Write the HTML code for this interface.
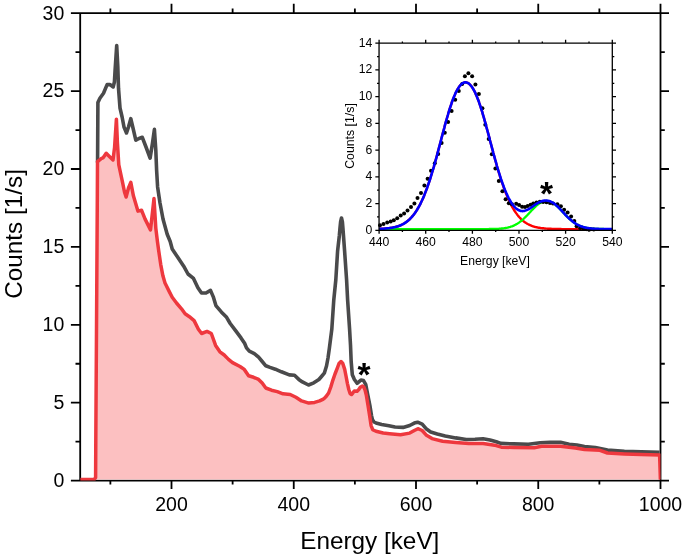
<!DOCTYPE html>
<html><head><meta charset="utf-8"><style>
html,body{margin:0;padding:0;background:#fff;width:685px;height:558px;overflow:hidden}
svg{display:block;will-change:transform}
</style></head><body>
<svg width="685" height="558" viewBox="0 0 685 558">
<rect width="685" height="558" fill="#fff"/>
<path d="M80.2,13.2H660.5V480.6H80.2Z M110.38,480.6v4.0M110.38,13.2v-4.8 M171.50,480.6v8.4M171.50,13.2v-9.5 M232.62,480.6v4.0M232.62,13.2v-4.8 M293.75,480.6v8.4M293.75,13.2v-9.5 M354.88,480.6v4.0M354.88,13.2v-4.8 M416.00,480.6v8.4M416.00,13.2v-9.5 M477.12,480.6v4.0M477.12,13.2v-4.8 M538.25,480.6v8.4M538.25,13.2v-9.5 M599.38,480.6v4.0M599.38,13.2v-4.8 M660.50,480.6v8.4M660.50,13.2v-9.5 M80.2,480.60h-9.3M660.5,480.60h8.5 M80.2,441.65h-4.7M660.5,441.65h4.3 M80.2,402.70h-9.3M660.5,402.70h8.5 M80.2,363.75h-4.7M660.5,363.75h4.3 M80.2,324.80h-9.3M660.5,324.80h8.5 M80.2,285.85h-4.7M660.5,285.85h4.3 M80.2,246.90h-9.3M660.5,246.90h8.5 M80.2,207.95h-4.7M660.5,207.95h4.3 M80.2,169.00h-9.3M660.5,169.00h8.5 M80.2,130.05h-4.7M660.5,130.05h4.3 M80.2,91.10h-9.3M660.5,91.10h8.5 M80.2,52.15h-4.7M660.5,52.15h4.3 M80.2,13.20h-9.3M660.5,13.20h8.5" fill="none" stroke="#000" stroke-width="1.8"/>
<defs><clipPath id="pc"><rect x="80.2" y="13.2" width="580.3" height="467.40000000000003"/></clipPath></defs>
<g clip-path="url(#pc)">
<polygon points="80.2,479.6 94.2,479.6 95.6,477.5 95.8,440.0 96.5,330.0 97.3,200.0 97.5,161.6 100.9,158.8 103.3,157.6 106.2,153.3 108.9,156.0 113.0,160.0 114.6,147.1 116.4,119.2 117.4,142.3 118.8,164.8 122.6,182.6 124.5,192.0 126.1,197.0 128.5,188.0 130.8,182.4 133.4,195.8 137.9,211.1 141.5,210.2 145.1,219.1 150.5,229.9 152.5,212.0 154.0,198.5 155.8,228.1 157.5,242.0 158.6,250.0 160.7,264.3 162.9,275.8 165.0,283.0 169.3,291.6 172.2,297.3 176.5,303.0 181.5,308.8 185.1,313.8 189.4,316.7 194.1,320.6 198.4,329.2 201.6,333.5 207.0,331.4 211.3,333.5 215.6,345.4 219.9,351.8 224.2,355.0 228.5,359.4 232.5,362.6 240.0,366.5 244.3,369.4 248.6,375.8 253.6,377.3 258.6,379.4 262.2,383.0 265.8,388.0 271.5,390.2 277.3,391.6 283.0,393.8 290.2,394.5 295.9,397.3 301.6,400.9 308.8,403.1 314.6,402.4 319.6,400.9 323.3,399.1 324.3,398.4 326.5,396.0 328.6,393.0 330.8,387.0 332.9,380.1 335.0,374.0 337.2,368.3 339.0,363.5 341.0,361.5 342.8,363.5 344.7,369.4 346.0,376.0 347.4,383.3 348.8,389.5 350.1,393.5 351.5,394.5 352.8,393.0 354.4,390.9 357.1,391.2 358.8,389.5 360.3,387.3 362.5,386.0 364.1,387.6 365.2,390.5 366.3,395.0 368.3,407.1 369.9,417.6 371.1,425.6 372.7,429.7 376.0,431.3 383.2,433.0 389.6,433.7 400.5,434.7 409.7,433.1 414.3,430.5 417.9,428.7 422.2,430.5 426.1,434.9 432.0,438.6 442.6,441.2 455.7,442.5 468.8,443.6 483.1,443.6 496.3,445.6 501.4,447.2 513.8,447.5 534.2,447.7 541.5,446.3 560.5,446.3 575.3,448.1 584.5,449.5 599.9,450.3 607.5,453.0 624.4,453.9 641.2,454.5 659.6,455.0 660.4,479.6" fill="#fcc0c1" stroke="none"/>
<polyline points="97.5,162.5 97.6,160.0 97.9,102.5 99.9,98.2 103.5,93.2 107.1,84.6 109.9,84.6 113.2,86.9 114.4,82.0 115.1,70.0 116.7,45.5 117.8,66.7 118.5,88.2 120.0,108.0 122.1,117.0 124.0,127.0 126.5,133.0 128.5,127.0 130.8,118.7 133.0,128.0 135.8,140.2 139.0,138.5 142.3,137.3 146.0,147.0 150.1,158.1 152.5,143.0 154.4,129.4 155.8,150.0 156.6,170.0 157.6,186.9 160.0,203.0 163.0,219.0 167.2,234.3 170.2,241.5 172.2,249.0 177.9,257.6 183.7,266.2 188.0,274.0 193.5,278.4 197.9,287.7 201.5,293.0 206.0,293.0 210.5,290.4 213.2,296.6 215.9,305.6 221.3,311.9 226.6,317.3 230.2,323.5 235.6,330.7 241.0,337.9 244.6,343.3 246.5,347.9 249.3,351.2 254.3,353.6 258.6,357.2 262.2,361.5 265.8,365.8 270.0,367.4 275.3,369.2 281.4,371.8 289.3,374.9 294.5,375.3 298.8,379.4 302.4,381.9 308.5,385.0 313.8,382.8 318.9,379.5 321.5,376.5 324.3,373.2 326.5,366.0 328.0,358.0 329.4,348.0 331.8,329.3 333.8,299.7 335.8,280.0 337.6,251.0 339.3,236.0 340.0,228.0 340.6,222.0 341.5,218.0 342.4,222.0 342.9,228.0 343.5,236.0 344.6,251.0 346.6,280.0 347.6,299.7 349.6,329.3 350.5,345.0 351.2,362.0 352.3,374.7 354.4,379.5 357.1,383.3 360.9,380.1 363.5,380.6 365.7,384.4 367.8,395.2 369.9,405.5 371.5,415.6 372.5,419.8 374.0,422.0 376.0,423.0 381.6,424.5 388.9,425.7 395.0,427.0 403.1,427.4 409.7,425.5 414.3,423.1 417.6,422.2 422.2,424.1 426.1,428.7 430.7,432.0 437.3,434.0 445.2,436.0 455.7,437.9 466.2,439.5 475.0,439.3 483.1,438.7 490.0,440.0 496.3,441.7 500.7,443.4 513.8,443.9 528.4,444.3 540.1,442.7 550.0,442.4 560.5,442.3 569.2,444.3 576.9,445.0 584.5,446.5 595.3,447.5 607.5,450.1 624.4,451.2 641.2,451.9 659.6,452.4" fill="none" stroke="#4a4a4b" stroke-width="3.6" stroke-linejoin="round"/>
<polyline points="80.2,479.6 94.2,479.6 95.6,477.5 95.8,440.0 96.5,330.0 97.3,200.0 97.5,161.6 100.9,158.8 103.3,157.6 106.2,153.3 108.9,156.0 113.0,160.0 114.6,147.1 116.4,119.2 117.4,142.3 118.8,164.8 122.6,182.6 124.5,192.0 126.1,197.0 128.5,188.0 130.8,182.4 133.4,195.8 137.9,211.1 141.5,210.2 145.1,219.1 150.5,229.9 152.5,212.0 154.0,198.5 155.8,228.1 157.5,242.0 158.6,250.0 160.7,264.3 162.9,275.8 165.0,283.0 169.3,291.6 172.2,297.3 176.5,303.0 181.5,308.8 185.1,313.8 189.4,316.7 194.1,320.6 198.4,329.2 201.6,333.5 207.0,331.4 211.3,333.5 215.6,345.4 219.9,351.8 224.2,355.0 228.5,359.4 232.5,362.6 240.0,366.5 244.3,369.4 248.6,375.8 253.6,377.3 258.6,379.4 262.2,383.0 265.8,388.0 271.5,390.2 277.3,391.6 283.0,393.8 290.2,394.5 295.9,397.3 301.6,400.9 308.8,403.1 314.6,402.4 319.6,400.9 323.3,399.1 324.3,398.4 326.5,396.0 328.6,393.0 330.8,387.0 332.9,380.1 335.0,374.0 337.2,368.3 339.0,363.5 341.0,361.5 342.8,363.5 344.7,369.4 346.0,376.0 347.4,383.3 348.8,389.5 350.1,393.5 351.5,394.5 352.8,393.0 354.4,390.9 357.1,391.2 358.8,389.5 360.3,387.3 362.5,386.0 364.1,387.6 365.2,390.5 366.3,395.0 368.3,407.1 369.9,417.6 371.1,425.6 372.7,429.7 376.0,431.3 383.2,433.0 389.6,433.7 400.5,434.7 409.7,433.1 414.3,430.5 417.9,428.7 422.2,430.5 426.1,434.9 432.0,438.6 442.6,441.2 455.7,442.5 468.8,443.6 483.1,443.6 496.3,445.6 501.4,447.2 513.8,447.5 534.2,447.7 541.5,446.3 560.5,446.3 575.3,448.1 584.5,449.5 599.9,450.3 607.5,453.0 624.4,453.9 641.2,454.5 659.6,455.0 660.4,479.6" fill="none" stroke="#ee383e" stroke-width="3.5" stroke-linejoin="round"/>
</g>
<text x="64.3" y="486.9" text-anchor="end" font-size="19.5" font-family="&apos;Liberation Sans&apos;, sans-serif">0</text>
<text x="64.3" y="409.0" text-anchor="end" font-size="19.5" font-family="&apos;Liberation Sans&apos;, sans-serif">5</text>
<text x="64.3" y="331.1" text-anchor="end" font-size="19.5" font-family="&apos;Liberation Sans&apos;, sans-serif">10</text>
<text x="64.3" y="253.2" text-anchor="end" font-size="19.5" font-family="&apos;Liberation Sans&apos;, sans-serif">15</text>
<text x="64.3" y="175.3" text-anchor="end" font-size="19.5" font-family="&apos;Liberation Sans&apos;, sans-serif">20</text>
<text x="64.3" y="97.4" text-anchor="end" font-size="19.5" font-family="&apos;Liberation Sans&apos;, sans-serif">25</text>
<text x="64.3" y="19.5" text-anchor="end" font-size="19.5" font-family="&apos;Liberation Sans&apos;, sans-serif">30</text>
<text x="171.5" y="510.9" text-anchor="middle" font-size="19.5" font-family="&apos;Liberation Sans&apos;, sans-serif">200</text>
<text x="293.8" y="510.9" text-anchor="middle" font-size="19.5" font-family="&apos;Liberation Sans&apos;, sans-serif">400</text>
<text x="416.0" y="510.9" text-anchor="middle" font-size="19.5" font-family="&apos;Liberation Sans&apos;, sans-serif">600</text>
<text x="538.2" y="510.9" text-anchor="middle" font-size="19.5" font-family="&apos;Liberation Sans&apos;, sans-serif">800</text>
<text x="660.5" y="510.9" text-anchor="middle" font-size="19.5" font-family="&apos;Liberation Sans&apos;, sans-serif">1000</text>
<text x="369.8" y="548.6" text-anchor="middle" font-size="24.3" font-family="&apos;Liberation Sans&apos;, sans-serif">Energy [keV]</text>
<text transform="translate(21.9,233.9) rotate(-90)" text-anchor="middle" font-size="24.3" font-family="&apos;Liberation Sans&apos;, sans-serif">Counts [1/s]</text>
<text x="364.1" y="386.3" text-anchor="middle" font-size="33.5" font-weight="bold" font-family="&apos;Liberation Sans&apos;, sans-serif">*</text>

<polyline points="379.1,228.9 379.6,228.9 380.2,228.8 380.8,228.8 381.4,228.8 382.0,228.8 382.5,228.7 383.1,228.7 383.7,228.7 384.3,228.6 384.9,228.6 385.5,228.5 386.0,228.5 386.6,228.4 387.2,228.4 387.8,228.3 388.4,228.2 389.0,228.2 389.5,228.1 390.1,228.0 390.7,227.9 391.3,227.9 391.9,227.8 392.5,227.7 393.0,227.5 393.6,227.4 394.2,227.3 394.8,227.2 395.4,227.0 396.0,226.9 396.5,226.7 397.1,226.5 397.7,226.4 398.3,226.2 398.9,226.0 399.5,225.7 400.0,225.5 400.6,225.3 401.2,225.0 401.8,224.7 402.4,224.4 403.0,224.1 403.5,223.8 404.1,223.5 404.7,223.1 405.3,222.7 405.9,222.3 406.5,221.9 407.0,221.5 407.6,221.0 408.2,220.5 408.8,220.0 409.4,219.5 410.0,218.9 410.5,218.3 411.1,217.7 411.7,217.1 412.3,216.4 412.9,215.7 413.5,215.0 414.0,214.3 414.6,213.5 415.2,212.6 415.8,211.8 416.4,210.9 417.0,210.0 417.5,209.0 418.1,208.0 418.7,207.0 419.3,205.9 419.9,204.8 420.5,203.7 421.0,202.5 421.6,201.3 422.2,200.0 422.8,198.7 423.4,197.4 424.0,196.0 424.5,194.6 425.1,193.1 425.7,191.6 426.3,190.1 426.9,188.5 427.4,186.9 428.0,185.2 428.6,183.5 429.2,181.8 429.8,180.0 430.4,178.2 430.9,176.3 431.5,174.5 432.1,172.5 432.7,170.6 433.3,168.6 433.9,166.6 434.4,164.5 435.0,162.5 435.6,160.4 436.2,158.3 436.8,156.1 437.4,153.9 437.9,151.8 438.5,149.6 439.1,147.4 439.7,145.2 440.3,142.9 440.9,140.7 441.4,138.5 442.0,136.3 442.6,134.1 443.2,131.9 443.8,129.7 444.4,127.5 444.9,125.3 445.5,123.2 446.1,121.1 446.7,119.0 447.3,117.0 447.9,115.0 448.4,113.0 449.0,111.1 449.6,109.2 450.2,107.4 450.8,105.6 451.4,103.9 451.9,102.2 452.5,100.6 453.1,99.0 453.7,97.5 454.3,96.1 454.9,94.7 455.4,93.4 456.0,92.2 456.6,91.0 457.2,89.9 457.8,88.9 458.4,88.0 458.9,87.1 459.5,86.3 460.1,85.6 460.7,84.9 461.3,84.3 461.9,83.8 462.4,83.4 463.0,83.0 463.6,82.8 464.2,82.5 464.8,82.4 465.4,82.4 465.9,82.4 466.5,82.5 467.1,82.7 467.7,82.9 468.3,83.2 468.9,83.6 469.4,84.1 470.0,84.7 470.6,85.3 471.2,86.0 471.8,86.8 472.4,87.6 472.9,88.5 473.5,89.5 474.1,90.6 474.7,91.7 475.3,92.9 475.8,94.2 476.4,95.5 477.0,96.9 477.6,98.4 478.2,100.0 478.8,101.5 479.3,103.2 479.9,104.9 480.5,106.7 481.1,108.5 481.7,110.3 482.3,112.2 482.8,114.2 483.4,116.2 484.0,118.2 484.6,120.3 485.2,122.4 485.8,124.5 486.3,126.6 486.9,128.8 487.5,131.0 488.1,133.2 488.7,135.4 489.3,137.6 489.8,139.8 490.4,142.1 491.0,144.3 491.6,146.5 492.2,148.7 492.8,150.9 493.3,153.1 493.9,155.2 494.5,157.4 495.1,159.5 495.7,161.6 496.3,163.7 496.8,165.8 497.4,167.8 498.0,169.8 498.6,171.8 499.2,173.7 499.8,175.6 500.3,177.5 500.9,179.3 501.5,181.1 502.1,182.8 502.7,184.5 503.3,186.2 503.8,187.9 504.4,189.5 505.0,191.0 505.6,192.5 506.2,194.0 506.8,195.4 507.3,196.8 507.9,198.2 508.5,199.5 509.1,200.8 509.7,202.0 510.3,203.2 510.8,204.4 511.4,205.5 512.0,206.6 512.6,207.6 513.2,208.6 513.8,209.6 514.3,210.5 514.9,211.4 515.5,212.3 516.1,213.1 516.7,213.9 517.3,214.7 517.8,215.4 518.4,216.2 519.0,216.8 519.6,217.5 520.2,218.1 520.7,218.7 521.3,219.3 521.9,219.8 522.5,220.3 523.1,220.8 523.7,221.3 524.2,221.7 524.8,222.2 525.4,222.6 526.0,223.0 526.6,223.3 527.2,223.7 527.7,224.0 528.3,224.3 528.9,224.6 529.5,224.9 530.1,225.2 530.7,225.4 531.2,225.6 531.8,225.9 532.4,226.1 533.0,226.3 533.6,226.5 534.2,226.6 534.7,226.8 535.3,227.0 535.9,227.1 536.5,227.2 537.1,227.4 537.7,227.5 538.2,227.6 538.8,227.7 539.4,227.8 540.0,227.9 540.6,228.0 541.2,228.1 541.7,228.1 542.3,228.2 542.9,228.3 543.5,228.3 544.1,228.4 544.7,228.5 545.2,228.5 545.8,228.6 546.4,228.6 547.0,228.6 547.6,228.7 548.2,228.7 548.7,228.7 549.3,228.8 549.9,228.8 550.5,228.8 551.1,228.8 551.7,228.9 552.2,228.9 552.8,228.9 553.4,228.9 554.0,228.9 554.6,228.9 555.2,229.0 555.7,229.0 556.3,229.0 556.9,229.0 557.5,229.0 558.1,229.0 558.7,229.0 559.2,229.0 559.8,229.0 560.4,229.0 561.0,229.0 561.6,229.1 562.2,229.1 562.7,229.1 563.3,229.1 563.9,229.1 564.5,229.1 565.1,229.1 565.6,229.1 566.2,229.1 566.8,229.1 567.4,229.1 568.0,229.1 568.6,229.1 569.1,229.1 569.7,229.1 570.3,229.1 570.9,229.1 571.5,229.1 572.1,229.1 572.6,229.1 573.2,229.1 573.8,229.1 574.4,229.1 575.0,229.1 575.6,229.1 576.1,229.1 576.7,229.1 577.3,229.1 577.9,229.1 578.5,229.1 579.1,229.1 579.6,229.1 580.2,229.1 580.8,229.1 581.4,229.1 582.0,229.1 582.6,229.1 583.1,229.1 583.7,229.1 584.3,229.1 584.9,229.1 585.5,229.1 586.1,229.1 586.6,229.1 587.2,229.1 587.8,229.1 588.4,229.1 589.0,229.1 589.6,229.1 590.1,229.1 590.7,229.1 591.3,229.1 591.9,229.1 592.5,229.1 593.1,229.1 593.6,229.1 594.2,229.1 594.8,229.1 595.4,229.1 596.0,229.1 596.6,229.1 597.1,229.1 597.7,229.1 598.3,229.1 598.9,229.1 599.5,229.1 600.1,229.1 600.6,229.1 601.2,229.1 601.8,229.1 602.4,229.1 603.0,229.1 603.6,229.1 604.1,229.1 604.7,229.1 605.3,229.1 605.9,229.1 606.5,229.1 607.1,229.1 607.6,229.1 608.2,229.1 608.8,229.1 609.4,229.1 610.0,229.1 610.6,229.1 611.1,229.1 611.7,229.1 612.3,229.1" fill="none" stroke="#ff0000" stroke-width="2.4"/>
<polyline points="379.1,229.1 379.6,229.1 380.2,229.1 380.8,229.1 381.4,229.1 382.0,229.1 382.5,229.1 383.1,229.1 383.7,229.1 384.3,229.1 384.9,229.1 385.5,229.1 386.0,229.1 386.6,229.1 387.2,229.1 387.8,229.1 388.4,229.1 389.0,229.1 389.5,229.1 390.1,229.1 390.7,229.1 391.3,229.1 391.9,229.1 392.5,229.1 393.0,229.1 393.6,229.1 394.2,229.1 394.8,229.1 395.4,229.1 396.0,229.1 396.5,229.1 397.1,229.1 397.7,229.1 398.3,229.1 398.9,229.1 399.5,229.1 400.0,229.1 400.6,229.1 401.2,229.1 401.8,229.1 402.4,229.1 403.0,229.1 403.5,229.1 404.1,229.1 404.7,229.1 405.3,229.1 405.9,229.1 406.5,229.1 407.0,229.1 407.6,229.1 408.2,229.1 408.8,229.1 409.4,229.1 410.0,229.1 410.5,229.1 411.1,229.1 411.7,229.1 412.3,229.1 412.9,229.1 413.5,229.1 414.0,229.1 414.6,229.1 415.2,229.1 415.8,229.1 416.4,229.1 417.0,229.1 417.5,229.1 418.1,229.1 418.7,229.1 419.3,229.1 419.9,229.1 420.5,229.1 421.0,229.1 421.6,229.1 422.2,229.1 422.8,229.1 423.4,229.1 424.0,229.1 424.5,229.1 425.1,229.1 425.7,229.1 426.3,229.1 426.9,229.1 427.4,229.1 428.0,229.1 428.6,229.1 429.2,229.1 429.8,229.1 430.4,229.1 430.9,229.1 431.5,229.1 432.1,229.1 432.7,229.1 433.3,229.1 433.9,229.1 434.4,229.1 435.0,229.1 435.6,229.1 436.2,229.1 436.8,229.1 437.4,229.1 437.9,229.1 438.5,229.1 439.1,229.1 439.7,229.1 440.3,229.1 440.9,229.1 441.4,229.1 442.0,229.1 442.6,229.1 443.2,229.1 443.8,229.1 444.4,229.1 444.9,229.1 445.5,229.1 446.1,229.1 446.7,229.1 447.3,229.1 447.9,229.1 448.4,229.1 449.0,229.1 449.6,229.1 450.2,229.1 450.8,229.1 451.4,229.1 451.9,229.1 452.5,229.1 453.1,229.1 453.7,229.1 454.3,229.1 454.9,229.1 455.4,229.1 456.0,229.1 456.6,229.1 457.2,229.1 457.8,229.1 458.4,229.1 458.9,229.1 459.5,229.1 460.1,229.1 460.7,229.1 461.3,229.1 461.9,229.1 462.4,229.1 463.0,229.1 463.6,229.1 464.2,229.1 464.8,229.1 465.4,229.1 465.9,229.1 466.5,229.1 467.1,229.1 467.7,229.1 468.3,229.1 468.9,229.1 469.4,229.1 470.0,229.1 470.6,229.1 471.2,229.1 471.8,229.1 472.4,229.1 472.9,229.1 473.5,229.1 474.1,229.1 474.7,229.1 475.3,229.1 475.8,229.1 476.4,229.1 477.0,229.1 477.6,229.1 478.2,229.1 478.8,229.1 479.3,229.1 479.9,229.1 480.5,229.1 481.1,229.1 481.7,229.1 482.3,229.1 482.8,229.1 483.4,229.1 484.0,229.1 484.6,229.1 485.2,229.1 485.8,229.1 486.3,229.1 486.9,229.1 487.5,229.1 488.1,229.1 488.7,229.1 489.3,229.0 489.8,229.0 490.4,229.0 491.0,229.0 491.6,229.0 492.2,229.0 492.8,229.0 493.3,229.0 493.9,229.0 494.5,228.9 495.1,228.9 495.7,228.9 496.3,228.9 496.8,228.9 497.4,228.8 498.0,228.8 498.6,228.8 499.2,228.7 499.8,228.7 500.3,228.6 500.9,228.6 501.5,228.5 502.1,228.5 502.7,228.4 503.3,228.3 503.8,228.3 504.4,228.2 505.0,228.1 505.6,228.0 506.2,227.9 506.8,227.8 507.3,227.7 507.9,227.5 508.5,227.4 509.1,227.2 509.7,227.1 510.3,226.9 510.8,226.7 511.4,226.5 512.0,226.3 512.6,226.1 513.2,225.8 513.8,225.6 514.3,225.3 514.9,225.0 515.5,224.7 516.1,224.4 516.7,224.1 517.3,223.7 517.8,223.4 518.4,223.0 519.0,222.6 519.6,222.2 520.2,221.7 520.7,221.3 521.3,220.8 521.9,220.3 522.5,219.8 523.1,219.3 523.7,218.8 524.2,218.2 524.8,217.7 525.4,217.1 526.0,216.5 526.6,215.9 527.2,215.3 527.7,214.7 528.3,214.1 528.9,213.5 529.5,212.8 530.1,212.2 530.7,211.6 531.2,210.9 531.8,210.3 532.4,209.7 533.0,209.1 533.6,208.5 534.2,207.9 534.7,207.3 535.3,206.8 535.9,206.2 536.5,205.7 537.1,205.2 537.7,204.7 538.2,204.3 538.8,203.8 539.4,203.4 540.0,203.1 540.6,202.7 541.2,202.4 541.7,202.1 542.3,201.9 542.9,201.7 543.5,201.5 544.1,201.3 544.7,201.2 545.2,201.1 545.8,201.1 546.4,201.0 547.0,201.0 547.6,201.1 548.2,201.2 548.7,201.3 549.3,201.4 549.9,201.6 550.5,201.8 551.1,202.0 551.7,202.3 552.2,202.6 552.8,202.9 553.4,203.3 554.0,203.7 554.6,204.1 555.2,204.5 555.7,205.0 556.3,205.5 556.9,206.0 557.5,206.5 558.1,207.1 558.7,207.7 559.2,208.2 559.8,208.8 560.4,209.4 561.0,210.1 561.6,210.7 562.2,211.3 562.7,211.9 563.3,212.6 563.9,213.2 564.5,213.8 565.1,214.5 565.6,215.1 566.2,215.7 566.8,216.3 567.4,216.9 568.0,217.4 568.6,218.0 569.1,218.6 569.7,219.1 570.3,219.6 570.9,220.1 571.5,220.6 572.1,221.1 572.6,221.5 573.2,222.0 573.8,222.4 574.4,222.8 575.0,223.2 575.6,223.6 576.1,223.9 576.7,224.3 577.3,224.6 577.9,224.9 578.5,225.2 579.1,225.5 579.6,225.7 580.2,226.0 580.8,226.2 581.4,226.4 582.0,226.6 582.6,226.8 583.1,227.0 583.7,227.2 584.3,227.3 584.9,227.5 585.5,227.6 586.1,227.7 586.6,227.8 587.2,228.0 587.8,228.1 588.4,228.1 589.0,228.2 589.6,228.3 590.1,228.4 590.7,228.5 591.3,228.5 591.9,228.6 592.5,228.6 593.1,228.7 593.6,228.7 594.2,228.8 594.8,228.8 595.4,228.8 596.0,228.8 596.6,228.9 597.1,228.9 597.7,228.9 598.3,228.9 598.9,229.0 599.5,229.0 600.1,229.0 600.6,229.0 601.2,229.0 601.8,229.0 602.4,229.0 603.0,229.0 603.6,229.0 604.1,229.1 604.7,229.1 605.3,229.1 605.9,229.1 606.5,229.1 607.1,229.1 607.6,229.1 608.2,229.1 608.8,229.1 609.4,229.1 610.0,229.1 610.6,229.1 611.1,229.1 611.7,229.1 612.3,229.1" fill="none" stroke="#00ff00" stroke-width="2.3"/>
<circle cx="380.0" cy="225.3" r="2.0" fill="#000"/>
<circle cx="383.5" cy="223.9" r="2.0" fill="#000"/>
<circle cx="387.2" cy="222.5" r="2.0" fill="#000"/>
<circle cx="390.7" cy="221.4" r="2.0" fill="#000"/>
<circle cx="393.8" cy="220.2" r="2.0" fill="#000"/>
<circle cx="397.2" cy="218.2" r="2.0" fill="#000"/>
<circle cx="400.7" cy="215.6" r="2.0" fill="#000"/>
<circle cx="404.1" cy="213.4" r="2.0" fill="#000"/>
<circle cx="407.5" cy="210.4" r="2.0" fill="#000"/>
<circle cx="411.0" cy="206.9" r="2.0" fill="#000"/>
<circle cx="414.4" cy="203.5" r="2.0" fill="#000"/>
<circle cx="417.5" cy="198.1" r="2.0" fill="#000"/>
<circle cx="421.0" cy="192.9" r="2.0" fill="#000"/>
<circle cx="424.4" cy="185.5" r="2.0" fill="#000"/>
<circle cx="427.6" cy="178.8" r="2.0" fill="#000"/>
<circle cx="431.0" cy="170.7" r="2.0" fill="#000"/>
<circle cx="434.8" cy="163.3" r="2.0" fill="#000"/>
<circle cx="438.2" cy="153.9" r="2.0" fill="#000"/>
<circle cx="441.6" cy="143.0" r="2.0" fill="#000"/>
<circle cx="444.8" cy="132.8" r="2.0" fill="#000"/>
<circle cx="448.1" cy="122.0" r="2.0" fill="#000"/>
<circle cx="451.6" cy="111.0" r="2.0" fill="#000"/>
<circle cx="455.2" cy="99.8" r="2.0" fill="#000"/>
<circle cx="458.8" cy="91.0" r="2.0" fill="#000"/>
<circle cx="462.2" cy="84.0" r="2.0" fill="#000"/>
<circle cx="464.9" cy="76.3" r="2.0" fill="#000"/>
<circle cx="468.4" cy="73.3" r="2.0" fill="#000"/>
<circle cx="472.1" cy="76.3" r="2.0" fill="#000"/>
<circle cx="475.4" cy="84.4" r="2.0" fill="#000"/>
<circle cx="478.9" cy="94.0" r="2.0" fill="#000"/>
<circle cx="482.4" cy="108.2" r="2.0" fill="#000"/>
<circle cx="485.3" cy="124.8" r="2.0" fill="#000"/>
<circle cx="488.7" cy="138.9" r="2.0" fill="#000"/>
<circle cx="491.8" cy="154.2" r="2.0" fill="#000"/>
<circle cx="495.4" cy="168.6" r="2.0" fill="#000"/>
<circle cx="498.8" cy="181.1" r="2.0" fill="#000"/>
<circle cx="502.4" cy="191.3" r="2.0" fill="#000"/>
<circle cx="505.6" cy="199.2" r="2.0" fill="#000"/>
<circle cx="508.8" cy="203.2" r="2.0" fill="#000"/>
<circle cx="512.0" cy="204.2" r="2.0" fill="#000"/>
<circle cx="516.2" cy="203.8" r="2.0" fill="#000"/>
<circle cx="519.1" cy="205.0" r="2.0" fill="#000"/>
<circle cx="522.1" cy="206.8" r="2.0" fill="#000"/>
<circle cx="525.0" cy="206.9" r="2.0" fill="#000"/>
<circle cx="527.7" cy="206.1" r="2.0" fill="#000"/>
<circle cx="530.6" cy="204.8" r="2.0" fill="#000"/>
<circle cx="533.3" cy="203.5" r="2.0" fill="#000"/>
<circle cx="536.5" cy="202.5" r="2.0" fill="#000"/>
<circle cx="539.8" cy="201.8" r="2.0" fill="#000"/>
<circle cx="543.1" cy="202.0" r="2.0" fill="#000"/>
<circle cx="546.5" cy="202.3" r="2.0" fill="#000"/>
<circle cx="550.0" cy="203.0" r="2.0" fill="#000"/>
<circle cx="553.0" cy="203.6" r="2.0" fill="#000"/>
<circle cx="557.4" cy="204.3" r="2.0" fill="#000"/>
<circle cx="560.9" cy="206.2" r="2.0" fill="#000"/>
<circle cx="564.1" cy="209.7" r="2.0" fill="#000"/>
<circle cx="567.6" cy="212.6" r="2.0" fill="#000"/>
<circle cx="571.1" cy="216.4" r="2.0" fill="#000"/>
<circle cx="574.3" cy="221.1" r="2.0" fill="#000"/>
<circle cx="576.6" cy="226.3" r="2.0" fill="#000"/>
<circle cx="580.1" cy="228.1" r="2.0" fill="#000"/>
<circle cx="583.5" cy="228.8" r="2.0" fill="#000"/>
<circle cx="587.0" cy="229.2" r="2.0" fill="#000"/>
<circle cx="590.4" cy="229.3" r="2.0" fill="#000"/>
<circle cx="593.8" cy="229.4" r="2.0" fill="#000"/>
<polyline points="379.1,228.9 379.6,228.9 380.2,228.8 380.8,228.8 381.4,228.8 382.0,228.8 382.5,228.7 383.1,228.7 383.7,228.7 384.3,228.6 384.9,228.6 385.5,228.5 386.0,228.5 386.6,228.4 387.2,228.4 387.8,228.3 388.4,228.2 389.0,228.2 389.5,228.1 390.1,228.0 390.7,227.9 391.3,227.9 391.9,227.8 392.5,227.7 393.0,227.5 393.6,227.4 394.2,227.3 394.8,227.2 395.4,227.0 396.0,226.9 396.5,226.7 397.1,226.5 397.7,226.4 398.3,226.2 398.9,226.0 399.5,225.7 400.0,225.5 400.6,225.3 401.2,225.0 401.8,224.7 402.4,224.4 403.0,224.1 403.5,223.8 404.1,223.5 404.7,223.1 405.3,222.7 405.9,222.3 406.5,221.9 407.0,221.5 407.6,221.0 408.2,220.5 408.8,220.0 409.4,219.5 410.0,218.9 410.5,218.3 411.1,217.7 411.7,217.1 412.3,216.4 412.9,215.7 413.5,215.0 414.0,214.3 414.6,213.5 415.2,212.6 415.8,211.8 416.4,210.9 417.0,210.0 417.5,209.0 418.1,208.0 418.7,207.0 419.3,205.9 419.9,204.8 420.5,203.7 421.0,202.5 421.6,201.3 422.2,200.0 422.8,198.7 423.4,197.4 424.0,196.0 424.5,194.6 425.1,193.1 425.7,191.6 426.3,190.1 426.9,188.5 427.4,186.9 428.0,185.2 428.6,183.5 429.2,181.8 429.8,180.0 430.4,178.2 430.9,176.3 431.5,174.5 432.1,172.5 432.7,170.6 433.3,168.6 433.9,166.6 434.4,164.5 435.0,162.5 435.6,160.4 436.2,158.3 436.8,156.1 437.4,153.9 437.9,151.8 438.5,149.6 439.1,147.4 439.7,145.2 440.3,142.9 440.9,140.7 441.4,138.5 442.0,136.3 442.6,134.1 443.2,131.9 443.8,129.7 444.4,127.5 444.9,125.3 445.5,123.2 446.1,121.1 446.7,119.0 447.3,117.0 447.9,115.0 448.4,113.0 449.0,111.1 449.6,109.2 450.2,107.4 450.8,105.6 451.4,103.9 451.9,102.2 452.5,100.6 453.1,99.0 453.7,97.5 454.3,96.1 454.9,94.7 455.4,93.4 456.0,92.2 456.6,91.0 457.2,89.9 457.8,88.9 458.4,88.0 458.9,87.1 459.5,86.3 460.1,85.6 460.7,84.9 461.3,84.3 461.9,83.8 462.4,83.4 463.0,83.0 463.6,82.8 464.2,82.5 464.8,82.4 465.4,82.4 465.9,82.4 466.5,82.5 467.1,82.7 467.7,82.9 468.3,83.2 468.9,83.6 469.4,84.1 470.0,84.7 470.6,85.3 471.2,86.0 471.8,86.8 472.4,87.6 472.9,88.5 473.5,89.5 474.1,90.6 474.7,91.7 475.3,92.9 475.8,94.2 476.4,95.5 477.0,96.9 477.6,98.4 478.2,99.9 478.8,101.5 479.3,103.2 479.9,104.9 480.5,106.7 481.1,108.5 481.7,110.3 482.3,112.2 482.8,114.2 483.4,116.2 484.0,118.2 484.6,120.3 485.2,122.4 485.8,124.5 486.3,126.6 486.9,128.8 487.5,131.0 488.1,133.1 488.7,135.3 489.3,137.6 489.8,139.8 490.4,142.0 491.0,144.2 491.6,146.4 492.2,148.6 492.8,150.8 493.3,153.0 493.9,155.1 494.5,157.2 495.1,159.4 495.7,161.4 496.3,163.5 496.8,165.5 497.4,167.5 498.0,169.5 498.6,171.4 499.2,173.3 499.8,175.2 500.3,177.0 500.9,178.8 501.5,180.5 502.1,182.2 502.7,183.9 503.3,185.5 503.8,187.0 504.4,188.5 505.0,190.0 505.6,191.4 506.2,192.8 506.8,194.1 507.3,195.4 507.9,196.6 508.5,197.8 509.1,198.9 509.7,200.0 510.3,201.0 510.8,202.0 511.4,202.9 512.0,203.8 512.6,204.6 513.2,205.3 513.8,206.1 514.3,206.7 514.9,207.3 515.5,207.9 516.1,208.4 516.7,208.9 517.3,209.3 517.8,209.7 518.4,210.0 519.0,210.3 519.6,210.5 520.2,210.7 520.7,210.9 521.3,211.0 521.9,211.0 522.5,211.1 523.1,211.0 523.7,211.0 524.2,210.9 524.8,210.7 525.4,210.6 526.0,210.4 526.6,210.1 527.2,209.9 527.7,209.6 528.3,209.3 528.9,209.0 529.5,208.6 530.1,208.3 530.7,207.9 531.2,207.5 531.8,207.1 532.4,206.7 533.0,206.3 533.6,205.8 534.2,205.4 534.7,205.0 535.3,204.6 535.9,204.2 536.5,203.8 537.1,203.5 537.7,203.1 538.2,202.8 538.8,202.5 539.4,202.2 540.0,201.9 540.6,201.6 541.2,201.4 541.7,201.2 542.3,201.0 542.9,200.9 543.5,200.7 544.1,200.6 544.7,200.6 545.2,200.5 545.8,200.5 546.4,200.5 547.0,200.6 547.6,200.7 548.2,200.8 548.7,200.9 549.3,201.1 549.9,201.3 550.5,201.5 551.1,201.8 551.7,202.1 552.2,202.4 552.8,202.7 553.4,203.1 554.0,203.5 554.6,203.9 555.2,204.4 555.7,204.9 556.3,205.4 556.9,205.9 557.5,206.4 558.1,207.0 558.7,207.6 559.2,208.2 559.8,208.8 560.4,209.4 561.0,210.0 561.6,210.6 562.2,211.3 562.7,211.9 563.3,212.5 563.9,213.2 564.5,213.8 565.1,214.4 565.6,215.1 566.2,215.7 566.8,216.3 567.4,216.9 568.0,217.4 568.6,218.0 569.1,218.6 569.7,219.1 570.3,219.6 570.9,220.1 571.5,220.6 572.1,221.1 572.6,221.5 573.2,222.0 573.8,222.4 574.4,222.8 575.0,223.2 575.6,223.6 576.1,223.9 576.7,224.3 577.3,224.6 577.9,224.9 578.5,225.2 579.1,225.5 579.6,225.7 580.2,226.0 580.8,226.2 581.4,226.4 582.0,226.6 582.6,226.8 583.1,227.0 583.7,227.2 584.3,227.3 584.9,227.5 585.5,227.6 586.1,227.7 586.6,227.8 587.2,228.0 587.8,228.1 588.4,228.1 589.0,228.2 589.6,228.3 590.1,228.4 590.7,228.5 591.3,228.5 591.9,228.6 592.5,228.6 593.1,228.7 593.6,228.7 594.2,228.8 594.8,228.8 595.4,228.8 596.0,228.8 596.6,228.9 597.1,228.9 597.7,228.9 598.3,228.9 598.9,229.0 599.5,229.0 600.1,229.0 600.6,229.0 601.2,229.0 601.8,229.0 602.4,229.0 603.0,229.0 603.6,229.0 604.1,229.1 604.7,229.1 605.3,229.1 605.9,229.1 606.5,229.1 607.1,229.1 607.6,229.1 608.2,229.1 608.8,229.1 609.4,229.1 610.0,229.1 610.6,229.1 611.1,229.1 611.7,229.1 612.3,229.1" fill="none" stroke="#0000ff" stroke-width="2.6"/>
<path d="M379.05,43.2H612.3V230.3H379.05Z M379.1,230.3v3.5M379.1,43.2v-3.5 M402.4,230.3v1.8M402.4,43.2v-1.8 M425.7,230.3v3.5M425.7,43.2v-3.5 M449.0,230.3v1.8M449.0,43.2v-1.8 M472.4,230.3v3.5M472.4,43.2v-3.5 M495.7,230.3v1.8M495.7,43.2v-1.8 M519.0,230.3v3.5M519.0,43.2v-3.5 M542.3,230.3v1.8M542.3,43.2v-1.8 M565.6,230.3v3.5M565.6,43.2v-3.5 M589.0,230.3v1.8M589.0,43.2v-1.8 M612.3,230.3v3.5M612.3,43.2v-3.5 M379.05,230.3h-3.7M612.3,230.3h3.7 M379.05,216.9h-2M612.3,216.9h2 M379.05,203.6h-3.7M612.3,203.6h3.7 M379.05,190.2h-2M612.3,190.2h2 M379.05,176.8h-3.7M612.3,176.8h3.7 M379.05,163.5h-2M612.3,163.5h2 M379.05,150.1h-3.7M612.3,150.1h3.7 M379.05,136.8h-2M612.3,136.8h2 M379.05,123.4h-3.7M612.3,123.4h3.7 M379.05,110.0h-2M612.3,110.0h2 M379.05,96.7h-3.7M612.3,96.7h3.7 M379.05,83.3h-2M612.3,83.3h2 M379.05,69.9h-3.7M612.3,69.9h3.7 M379.05,56.6h-2M612.3,56.6h2 M379.05,43.2h-3.7M612.3,43.2h3.7" fill="none" stroke="#000" stroke-width="1.3"/>
<text x="372.3" y="233.7" text-anchor="end" font-size="12.2" font-family="&apos;Liberation Sans&apos;, sans-serif">0</text>
<text x="372.3" y="207.0" text-anchor="end" font-size="12.2" font-family="&apos;Liberation Sans&apos;, sans-serif">2</text>
<text x="372.3" y="180.2" text-anchor="end" font-size="12.2" font-family="&apos;Liberation Sans&apos;, sans-serif">4</text>
<text x="372.3" y="153.5" text-anchor="end" font-size="12.2" font-family="&apos;Liberation Sans&apos;, sans-serif">6</text>
<text x="372.3" y="126.8" text-anchor="end" font-size="12.2" font-family="&apos;Liberation Sans&apos;, sans-serif">8</text>
<text x="372.3" y="100.1" text-anchor="end" font-size="12.2" font-family="&apos;Liberation Sans&apos;, sans-serif">10</text>
<text x="372.3" y="73.3" text-anchor="end" font-size="12.2" font-family="&apos;Liberation Sans&apos;, sans-serif">12</text>
<text x="372.3" y="46.6" text-anchor="end" font-size="12.2" font-family="&apos;Liberation Sans&apos;, sans-serif">14</text>
<text x="379.1" y="246.3" text-anchor="middle" font-size="12.2" font-family="&apos;Liberation Sans&apos;, sans-serif">440</text>
<text x="425.7" y="246.3" text-anchor="middle" font-size="12.2" font-family="&apos;Liberation Sans&apos;, sans-serif">460</text>
<text x="472.4" y="246.3" text-anchor="middle" font-size="12.2" font-family="&apos;Liberation Sans&apos;, sans-serif">480</text>
<text x="519.0" y="246.3" text-anchor="middle" font-size="12.2" font-family="&apos;Liberation Sans&apos;, sans-serif">500</text>
<text x="565.6" y="246.3" text-anchor="middle" font-size="12.2" font-family="&apos;Liberation Sans&apos;, sans-serif">520</text>
<text x="612.3" y="246.3" text-anchor="middle" font-size="12.2" font-family="&apos;Liberation Sans&apos;, sans-serif">540</text>
<text x="495" y="264.8" text-anchor="middle" font-size="12.2" font-family="&apos;Liberation Sans&apos;, sans-serif">Energy [keV]</text>
<text transform="translate(354.4,136) rotate(-90)" text-anchor="middle" font-size="12.3" font-family="&apos;Liberation Sans&apos;, sans-serif">Counts [1/s]</text>
<text x="546.6" y="205.2" text-anchor="middle" font-size="33.5" font-weight="bold" font-family="&apos;Liberation Sans&apos;, sans-serif">*</text>
</svg>
</body></html>
